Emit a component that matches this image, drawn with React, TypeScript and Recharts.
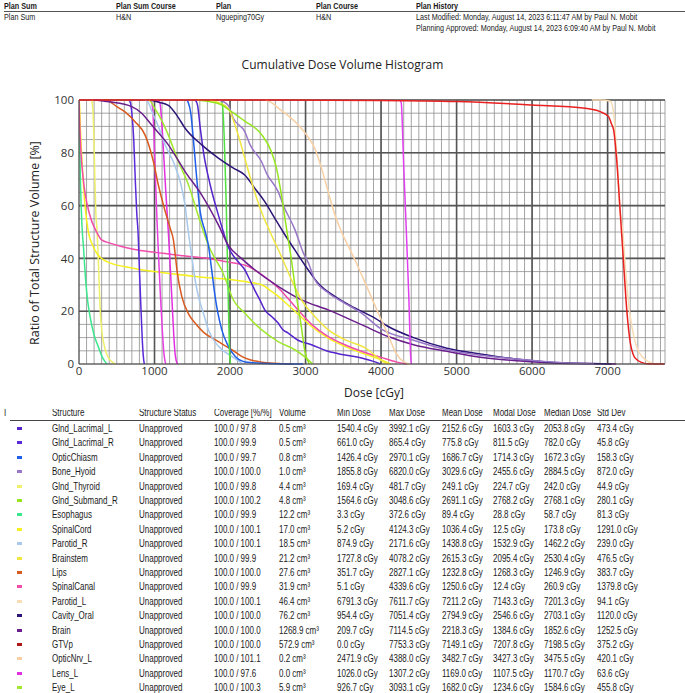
import React from 'react';
import { LineChart, Line, XAxis, YAxis, CartesianGrid, ReferenceLine } from 'recharts';

type Pt = [number, number]; // [dose cGy, volume %]

// DVH curves
const glndLacrimalL: Pt[] = [[1540, 100], [1570, 98], [1603, 90], [1650, 80], [1736, 68], [1850, 56], [1912, 50], [1974, 44.5], [2100, 39], [2195, 35.7], [2260, 32], [2327, 28], [2400, 24], [2460, 20.5], [2550, 18], [2637, 15.5], [2700, 13], [2770, 11.7], [2900, 9], [3078, 7.3], [3299, 4.8], [3500, 3.5], [3741, 2.3], [3900, 1], [3992, 0]];
const glndLacrimalR: Pt[] = [[661, 100], [680, 99], [700, 95], [725, 85], [745, 70], [765, 57], [782, 50], [800, 36], [822, 20], [840, 8], [855, 2], [865, 0]];
const opticChiasm: Pt[] = [[1426, 100], [1448, 99], [1480, 95], [1515, 85], [1560, 70], [1603, 58], [1672, 50], [1713, 45], [1760, 35], [1802, 25.6], [1890, 13], [1978, 6.7], [2067, 2.9], [2200, 0.8], [2500, 0.2], [2970, 0]];
const boneHyoid: Pt[] = [[1855, 100], [1974, 98], [2045, 93], [2195, 88], [2266, 83], [2416, 76.7], [2487, 72], [2637, 65.3], [2707, 60], [2858, 51], [2972, 42], [3034, 38.5], [3122, 32], [3299, 27], [3520, 23], [3741, 19.3], [3988, 13.5], [4430, 9], [4872, 5.4], [5313, 3.3], [5755, 2], [6197, 0.9], [6639, 0.2], [6820, 0]];
const glndThyroid: Pt[] = [[169, 100], [185, 96], [198, 85], [210, 70], [222, 58], [240, 50], [258, 38], [278, 22], [300, 13], [330, 7.5], [370, 3.5], [420, 1.2], [481, 0]];
const glndSubmandR: Pt[] = [[1564, 100], [1700, 99.5], [1900, 98], [1974, 96.5], [2195, 92], [2416, 87], [2548, 80.4], [2615, 74.2], [2681, 64], [2747, 51.5], [2800, 42], [2880, 25.6], [2940, 15], [2990, 5], [3048, 0]];
const esophagus: Pt[] = [[0, 100], [6, 88], [20, 68], [40, 52], [60, 44], [80, 35], [110, 25], [140, 19], [200, 11], [256, 6.5], [310, 2.5], [350, 0.7], [372, 0]];
const spinalCord: Pt[] = [[0, 100], [5, 99], [20, 88], [50, 72], [80, 60], [124, 50], [180, 45], [234, 42], [367, 38.8], [720, 36.3], [1000, 35], [1600, 33], [2000, 32], [2250, 31], [2420, 30], [2550, 27.5], [2640, 25.6], [2750, 22.8], [2860, 20], [3080, 14.2], [3300, 9.8], [3520, 6.7], [3740, 4.2], [3950, 2.2], [4124, 0]];
const parotidR: Pt[] = [[875, 100], [920, 99], [960, 96], [1050, 90], [1140, 83], [1272, 75], [1350, 68], [1405, 60], [1448, 50], [1493, 40.7], [1537, 32], [1581, 25.6], [1647, 19.3], [1713, 13], [1846, 6.7], [2023, 2.9], [2171, 0]];
const brainstem: Pt[] = [[1727, 100], [1850, 99], [1974, 96.9], [2107, 86.8], [2195, 78], [2283, 69.1], [2416, 57.7], [2531, 50], [2681, 40.7], [2814, 31.9], [2946, 24.3], [3122, 18], [3299, 13], [3520, 9.2], [3829, 5.4], [3950, 2.5], [4078, 0]];
const lips: Pt[] = [[351, 100], [400, 99.5], [500, 97.5], [609, 95.5], [742, 91.8], [874, 86.8], [985, 76.7], [1051, 67.8], [1117, 60.3], [1206, 51.5], [1250, 47], [1280, 40], [1300, 35], [1361, 25.6], [1450, 19], [1537, 15.5], [1650, 12], [1802, 9.2], [2023, 5.4], [2195, 2.3], [2400, 0.8], [2827, 0]];
const spinalCanal: Pt[] = [[0, 100], [8, 92], [22, 82], [57, 70], [137, 57], [234, 50], [300, 47], [411, 45.8], [720, 43.5], [1000, 42.3], [1382, 41], [1713, 40], [2000, 38.5], [2240, 37], [2360, 35], [2460, 33], [2640, 28.8], [2860, 21.8], [3080, 15], [3300, 10.4], [3520, 7.3], [3740, 4.8], [4000, 2.5], [4200, 0.8], [4339, 0]];
const parotidL: Pt[] = [[6791, 100], [6900, 100], [7036, 99.5], [7080, 95], [7120, 80], [7160, 60], [7201, 50], [7240, 35], [7290, 20], [7350, 10], [7450, 3], [7611, 0]];
const cavityOral: Pt[] = [[954, 100], [1007, 99.5], [1183, 98], [1300, 94], [1405, 89.3], [1626, 83], [1846, 78], [2045, 74.2], [2195, 71.6], [2327, 66.6], [2460, 61.5], [2593, 55.2], [2703, 50], [2858, 43.2], [3034, 35.7], [3167, 30.6], [3388, 25.6], [3653, 21.2], [3918, 17.4], [4094, 14.2], [4430, 10], [4872, 6], [5313, 3.8], [5755, 2], [6197, 0.8], [6700, 0.2], [7051, 0]];
const brain: Pt[] = [[209, 100], [400, 99.3], [698, 97.5], [830, 95], [963, 90.5], [1183, 83], [1405, 72.9], [1626, 64], [1846, 52.7], [1974, 45.1], [2150, 40], [2327, 35.7], [2637, 29.4], [2946, 24.3], [3299, 20.5], [3741, 14.9], [4094, 10.4], [4430, 7.3], [4872, 4.8], [5313, 2.6], [5755, 1.3], [6197, 0.5], [6700, 0.15], [7114, 0]];
const gtvp: Pt[] = [[0, 100], [2000, 100], [4000, 99.8], [5000, 99.4], [6000, 98.1], [6700, 96.9], [6900, 95.6], [7013, 93.7], [7050, 91], [7080, 88.6], [7124, 76], [7168, 57], [7212, 38], [7257, 19.3], [7301, 7.9], [7340, 3.5], [7389, 1.6], [7450, 0.6], [7522, 0.1], [7753, 0]];
const opticNrvL: Pt[] = [[2471, 100], [2550, 99], [2637, 97], [2858, 91.8], [3012, 86.8], [3122, 81.7], [3211, 74.2], [3299, 65.3], [3388, 56.5], [3476, 50], [3560, 45], [3653, 39.5], [3829, 28.1], [3962, 19.3], [4094, 11], [4200, 4], [4300, 0.8], [4388, 0]];
const lensL: Pt[] = [[1026, 100], [1070, 99], [1095, 92], [1120, 80], [1150, 65], [1183, 50], [1210, 36], [1235, 22], [1255, 11], [1272, 4], [1290, 1], [1307, 0]];
const eyeL: Pt[] = [[926, 100], [960, 99], [1000, 97], [1100, 92], [1183, 86.7], [1316, 76.7], [1448, 68], [1581, 56], [1713, 45], [1800, 40], [1890, 35.5], [1974, 29.5], [2023, 25.6], [2195, 19.3], [2416, 13], [2637, 8.5], [2858, 5.4], [3000, 2.5], [3093, 0]];
// curves on the plot whose table rows are cut off below the page
const extraMagentaLow: Pt[] = [[955, 100], [975, 97], [995, 85], [1015, 68], [1035, 53], [1055, 40], [1080, 25], [1105, 12], [1125, 4], [1140, 1], [1150, 0]];
const extraMagentaHigh: Pt[] = [[4250, 100], [4267, 99], [4300, 75], [4335, 50], [4368, 25], [4392, 3], [4400, 0]];
const extraGreen: Pt[] = [[1880, 100], [1900, 98], [1920, 88], [1935, 75], [1950, 60], [1965, 40], [1980, 20], [1993, 5], [2005, 0]];

// table columns
const names = ['Glnd_Lacrimal_L', 'Glnd_Lacrimal_R', 'OpticChiasm', 'Bone_Hyoid', 'Glnd_Thyroid', 'Glnd_Submand_R', 'Esophagus', 'SpinalCord', 'Parotid_R', 'Brainstem', 'Lips', 'SpinalCanal', 'Parotid_L', 'Cavity_Oral', 'Brain', 'GTVp', 'OpticNrv_L', 'Lens_L', 'Eye_L'];
const coverage = ['100.0 / 97.8', '100.0 / 99.9', '100.0 / 99.7', '100.0 / 100.0', '100.0 / 99.8', '100.0 / 100.2', '100.0 / 99.9', '100.0 / 100.1', '100.0 / 100.1', '100.0 / 99.9', '100.0 / 100.0', '100.0 / 99.9', '100.0 / 100.1', '100.0 / 100.0', '100.0 / 100.0', '100.0 / 100.0', '100.0 / 101.1', '100.0 / 97.6', '100.0 / 100.3'];
const volume = ['0.5', '0.5', '0.8', '1.0', '4.4', '4.8', '12.2', '17.0', '18.5', '21.2', '27.6', '31.9', '46.4', '76.2', '1268.9', '572.9', '0.2', '0.0', '5.9'];
const minDose = ['1540.4', '661.0', '1426.4', '1855.8', '169.4', '1564.6', '3.3', '5.2', '874.9', '1727.8', '351.7', '5.1', '6791.3', '954.4', '209.7', '0.0', '2471.9', '1026.0', '926.7'];
const maxDose = ['3992.1', '865.4', '2970.1', '6820.0', '481.7', '3048.6', '372.6', '4124.3', '2171.6', '4078.2', '2827.1', '4339.6', '7611.7', '7051.4', '7114.5', '7753.3', '4388.0', '1307.2', '3093.1'];
const meanDose = ['2152.6', '775.8', '1686.7', '3029.6', '249.1', '2691.1', '89.4', '1036.4', '1438.8', '2615.3', '1232.8', '1250.6', '7211.2', '2794.9', '2218.3', '7149.1', '3482.7', '1169.0', '1682.0'];
const modalDose = ['1603.3', '811.5', '1714.3', '2455.6', '224.7', '2768.2', '28.8', '12.5', '1532.9', '2095.4', '1268.3', '12.4', '7143.3', '2546.6', '1384.6', '7207.8', '3427.3', '1107.5', '1234.6'];
const medianDose = ['2053.8', '782.0', '1672.3', '2884.5', '242.0', '2768.1', '58.7', '173.8', '1462.2', '2530.4', '1246.9', '260.9', '7201.3', '2703.1', '1852.6', '7198.5', '3475.5', '1170.7', '1584.6'];
const stdDev = ['473.4', '45.8', '158.3', '872.0', '44.9', '280.1', '81.3', '1291.0', '239.0', '476.5', '383.7', '1379.8', '94.1', '1120.0', '1252.5', '375.2', '420.1', '63.6', '455.8'];

const curves: Record<string, Pt[]> = {
  Glnd_Lacrimal_L: glndLacrimalL, Glnd_Lacrimal_R: glndLacrimalR, OpticChiasm: opticChiasm, Bone_Hyoid: boneHyoid,
  Glnd_Thyroid: glndThyroid, Glnd_Submand_R: glndSubmandR, Esophagus: esophagus, SpinalCord: spinalCord,
  Parotid_R: parotidR, Brainstem: brainstem, Lips: lips, SpinalCanal: spinalCanal, Parotid_L: parotidL,
  Cavity_Oral: cavityOral, Brain: brain, GTVp: gtvp, OpticNrv_L: opticNrvL, Lens_L: lensL, Eye_L: eyeL,
  extraA: extraMagentaLow, extraB: extraMagentaHigh, extraC: extraGreen,
};

const colors: Record<string, string> = {
  Glnd_Lacrimal_L: '#5624cc', Glnd_Lacrimal_R: '#5a2ad8', OpticChiasm: '#1e5ee8', Bone_Hyoid: '#9a78c8',
  Glnd_Thyroid: '#eef06a', Glnd_Submand_R: '#96e61e', Esophagus: '#3ce68c', SpinalCord: '#f5f01e',
  Parotid_R: '#a8c8ec', Brainstem: '#f0e640', Lips: '#d85a1e', SpinalCanal: '#f04caa', Parotid_L: '#f8dcb4',
  Cavity_Oral: '#2c1478', Brain: '#6a1e8c', GTVp: '#e82020', OpticNrv_L: '#f8d0a4', Lens_L: '#e030e0',
  Eye_L: '#a0e830', extraA: '#e640e0', extraB: '#e040f0', extraC: '#50e040',
};
const markerColors: Record<string, string> = { ...colors, GTVp: '#b01818' };

const drawOrder = ['Esophagus', 'Glnd_Thyroid', 'SpinalCord', 'SpinalCanal', 'Glnd_Lacrimal_R', 'extraA', 'Lens_L', 'Lips', 'Parotid_R', 'Eye_L', 'OpticChiasm', 'extraC', 'Glnd_Lacrimal_L', 'Brain', 'Cavity_Oral', 'Bone_Hyoid', 'Brainstem', 'Glnd_Submand_R', 'OpticNrv_L', 'extraB', 'Parotid_L', 'GTVp'];

const minorX = Array.from({ length: 78 }, (_, i) => i * 100);
const majorX = [1000, 2000, 3000, 4000, 5000, 6000, 7000];
const minorY = Array.from({ length: 21 }, (_, i) => i * 5);
const majorY = [20, 40, 60, 80, 100];

const tableHeads = ['Structure', 'Structure Status', 'Coverage [%/%]', 'Volume', 'Min Dose', 'Max Dose', 'Mean Dose', 'Modal Dose', 'Median Dose', 'Std Dev'];
const colX = [52, 139, 214, 279, 337, 389, 442, 493, 544, 597];
const headX = [4, 116, 216, 316, 416];

const sans = "'Liberation Sans', Arial, sans-serif";
const chartFont = "'Open Sans', 'Noto Sans', sans-serif";

const XTick = ({ x, y, payload }: any) =>
  payload.value % 1000 === 0 ? (
    <text x={x} y={y - 5} dy="0.71em" textAnchor="middle" fontSize={11.5} fill="#333" fontFamily={chartFont}>{payload.value}</text>
  ) : <g />;

const YTick = ({ x, y, payload }: any) =>
  payload.value % 20 === 0 ? (
    <text x={x + 3} y={y} dy="0.36em" textAnchor="end" fontSize={11.5} fill="#333" fontFamily={chartFont}>{payload.value}</text>
  ) : <g />;

// condensed text: Arial-like face squeezed horizontally
const N = ({ x, y, children, bold, size = 10.5, lh = 12 }: { x: number; y: number; children: React.ReactNode; bold?: boolean; size?: number; lh?: number }) => (
  <div style={{
    position: 'absolute', left: x, top: y, whiteSpace: 'nowrap', fontFamily: sans, fontSize: size, color: '#1a1a1a',
    lineHeight: `${lh}px`, fontWeight: bold ? 'bold' : 'normal', transform: 'scaleX(0.76)', transformOrigin: 'left center',
  }}>{children}</div>
);

export default function App() {
  const rowTop = (i: number) => 422 + i * 14.4;
  const cells = (i: number) => [
    names[i], 'Unapproved', coverage[i], `${volume[i]} cm³`, `${minDose[i]} cGy`, `${maxDose[i]} cGy`,
    `${meanDose[i]} cGy`, `${modalDose[i]} cGy`, `${medianDose[i]} cGy`, `${stdDev[i]} cGy`,
  ];
  return (
    <div style={{ position: 'absolute', left: 0, top: 0, width: 685, height: 693, overflow: 'hidden', background: '#fff', color: '#222' }}>
      {/* plan header */}
      {['Plan Sum', 'Plan Sum Course', 'Plan', 'Plan Course', 'Plan History'].map((t, i) => (
        <N key={t} x={headX[i]} y={1} bold size={9.5} lh={9}>{t}</N>
      ))}
      <div style={{ position: 'absolute', left: 4, top: 11, width: 681, height: 1, background: '#555' }} />
      {['Plan Sum', 'H&N', 'Ngueping70Gy', 'H&N', 'Last Modified: Monday, August 14, 2023 6:11:47 AM by Paul N. Mobit'].map((t, i) => (
        <N key={i} x={headX[i]} y={12} size={9.5} lh={9}>{t}</N>
      ))}
      <N x={416} y={22.5} size={9.5} lh={9}>Planning Approved: Monday, August 14, 2023 6:09:40 AM by Paul N. Mobit</N>

      <div style={{ position: 'absolute', left: 0, top: 56, width: 685, textAlign: 'center', fontFamily: chartFont, fontSize: 12, color: '#222' }}>
        Cumulative Dose Volume Histogram
      </div>

      <div style={{ position: 'absolute', left: 34, top: 243, whiteSpace: 'nowrap', transform: 'translate(-50%, -50%) rotate(-90deg)', fontFamily: chartFont, fontSize: 12.5, color: '#222' }}>
        Ratio of Total Structure Volume [%]
      </div>

      <div style={{ position: 'absolute', left: 0, top: 80 }}>
        <LineChart width={685} height={330} margin={{ top: 20, right: 20, left: 19, bottom: 16 }}>
          <CartesianGrid stroke="#8e8e8e" strokeWidth={0.8} />
          <XAxis type="number" dataKey="d" domain={[0, 7760]} ticks={minorX} interval={0} tick={<XTick />} tickLine={false} axisLine={{ stroke: '#444' }} height={30} allowDataOverflow />
          <YAxis type="number" dataKey="v" domain={[0, 100]} ticks={minorY} interval={0} tick={<YTick />} tickLine={false} axisLine={{ stroke: '#444' }} width={60} />
          {majorX.map((v) => <ReferenceLine key={`mx${v}`} x={v} stroke="#555" strokeWidth={1.6} />)}
          {majorY.map((v) => <ReferenceLine key={`my${v}`} y={v} stroke="#555" strokeWidth={1.6} />)}
          {drawOrder.map((k) => (
            <Line key={k} name={k} data={curves[k].map(([d, v]) => ({ d, v }))} dataKey="v" type="monotone"
              stroke={colors[k]} strokeWidth={1.5} dot={false} isAnimationActive={false} />
          ))}
        </LineChart>
      </div>

      <div style={{ position: 'absolute', left: 344, top: 384, whiteSpace: 'nowrap', fontFamily: chartFont, fontSize: 12, color: '#222' }}>Dose [cGy]</div>

      {/* structure table */}
      <div style={{ position: 'absolute', left: 0, top: 409, width: 685, height: 10, overflow: 'hidden' }}>
        <N x={4} y={-3}>I</N>
        {tableHeads.map((h, i) => <N key={h} x={colX[i]} y={-3}>{h}</N>)}
      </div>
      <div style={{ position: 'absolute', left: 10, top: 420, width: 675, height: 1, background: '#444' }} />
      {names.map((n, i) => (
        <React.Fragment key={n}>
          <div style={{ position: 'absolute', left: 17, top: rowTop(i) + 5, width: 5, height: 3, background: markerColors[n] }} />
          {cells(i).map((c, j) => <N key={j} x={colX[j]} y={rowTop(i)}>{c}</N>)}
        </React.Fragment>
      ))}
    </div>
  );
}
